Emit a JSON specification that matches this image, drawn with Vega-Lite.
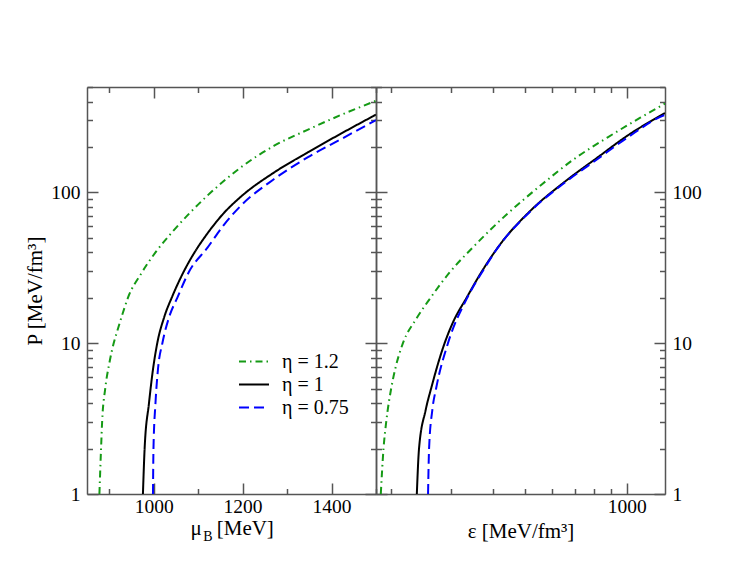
{
  "$schema": "https://vega.github.io/schema/vega-lite/v6.json",
  "padding": {"left": 24, "top": 86, "right": 5, "bottom": 5},
  "bounds": "flush",
  "spacing": 0,
  "config": {
    "view": {"stroke": null},
    "font": "Liberation Serif",
    "axis": {
      "grid": false,
      "domainColor": "#555555",
      "domainWidth": 1.5,
      "tickColor": "#555555",
      "tickWidth": 1.5,
      "labelFont": "Liberation Serif",
      "titleFont": "Liberation Serif",
      "labelFontSize": 19.5,
      "titleFontSize": 21,
      "labelColor": "black",
      "titleColor": "black",
      "titleFontWeight": "normal"
    },
    "legend": {
      "labelFont": "Liberation Serif",
      "labelFontSize": 20,
      "labelColor": "black"
    }
  },
  "datasets": {
    "left": [
      {"eta": "η = 1.2", "x": 877.9, "P": 1},
      {"eta": "η = 1.2", "x": 881.6, "P": 2},
      {"eta": "η = 1.2", "x": 884, "P": 3},
      {"eta": "η = 1.2", "x": 891, "P": 5},
      {"eta": "η = 1.2", "x": 900, "P": 7.3},
      {"eta": "η = 1.2", "x": 910, "P": 10},
      {"eta": "η = 1.2", "x": 916, "P": 11.5},
      {"eta": "η = 1.2", "x": 928, "P": 15},
      {"eta": "η = 1.2", "x": 942, "P": 20},
      {"eta": "η = 1.2", "x": 972, "P": 29},
      {"eta": "η = 1.2", "x": 1004, "P": 40},
      {"eta": "η = 1.2", "x": 1045, "P": 56},
      {"eta": "η = 1.2", "x": 1120.5, "P": 95},
      {"eta": "η = 1.2", "x": 1196, "P": 146.5},
      {"eta": "η = 1.2", "x": 1271, "P": 204},
      {"eta": "η = 1.2", "x": 1346, "P": 260},
      {"eta": "η = 1.2", "x": 1422, "P": 327},
      {"eta": "η = 1.2", "x": 1500, "P": 405},
      {"eta": "η = 1", "x": 975.8, "P": 1},
      {"eta": "η = 1", "x": 979.6, "P": 2},
      {"eta": "η = 1", "x": 989.4, "P": 4},
      {"eta": "η = 1", "x": 999, "P": 6.9},
      {"eta": "η = 1", "x": 1008, "P": 10},
      {"eta": "η = 1", "x": 1024, "P": 15},
      {"eta": "η = 1", "x": 1042, "P": 20.5},
      {"eta": "η = 1", "x": 1068, "P": 30},
      {"eta": "η = 1", "x": 1093, "P": 40.5},
      {"eta": "η = 1", "x": 1120, "P": 53},
      {"eta": "η = 1", "x": 1156, "P": 72},
      {"eta": "η = 1", "x": 1196, "P": 93.6},
      {"eta": "η = 1", "x": 1271, "P": 135.7},
      {"eta": "η = 1", "x": 1346, "P": 184},
      {"eta": "η = 1", "x": 1422, "P": 246},
      {"eta": "η = 1", "x": 1500, "P": 328},
      {"eta": "η = 0.75", "x": 998.4, "P": 1},
      {"eta": "η = 0.75", "x": 999.5, "P": 2},
      {"eta": "η = 0.75", "x": 1004, "P": 4},
      {"eta": "η = 0.75", "x": 1010, "P": 6.9},
      {"eta": "η = 0.75", "x": 1019.5, "P": 10},
      {"eta": "η = 0.75", "x": 1035, "P": 15},
      {"eta": "η = 0.75", "x": 1053, "P": 20},
      {"eta": "η = 0.75", "x": 1080, "P": 30},
      {"eta": "η = 0.75", "x": 1121, "P": 43},
      {"eta": "η = 0.75", "x": 1158, "P": 61},
      {"eta": "η = 0.75", "x": 1196, "P": 81.6},
      {"eta": "η = 0.75", "x": 1271, "P": 122.7},
      {"eta": "η = 0.75", "x": 1346, "P": 170.6},
      {"eta": "η = 0.75", "x": 1422, "P": 226},
      {"eta": "η = 0.75", "x": 1500, "P": 302}
    ],
    "right": [
      {"eta": "η = 1.2", "x": 186, "P": 1},
      {"eta": "η = 1.2", "x": 189.5, "P": 2},
      {"eta": "η = 1.2", "x": 193, "P": 3},
      {"eta": "η = 1.2", "x": 200, "P": 5.1},
      {"eta": "η = 1.2", "x": 205.8, "P": 6.9},
      {"eta": "η = 1.2", "x": 216.4, "P": 10},
      {"eta": "η = 1.2", "x": 237, "P": 14.5},
      {"eta": "η = 1.2", "x": 261, "P": 19.9},
      {"eta": "η = 1.2", "x": 298, "P": 29.5},
      {"eta": "η = 1.2", "x": 352, "P": 44},
      {"eta": "η = 1.2", "x": 441.5, "P": 71.9},
      {"eta": "η = 1.2", "x": 554.6, "P": 111},
      {"eta": "η = 1.2", "x": 697, "P": 166},
      {"eta": "η = 1.2", "x": 876, "P": 231},
      {"eta": "η = 1.2", "x": 1101, "P": 314},
      {"eta": "η = 1.2", "x": 1277, "P": 379},
      {"eta": "η = 1.2", "x": 1300, "P": 388},
      {"eta": "η = 1", "x": 238, "P": 1},
      {"eta": "η = 1", "x": 241.6, "P": 2},
      {"eta": "η = 1", "x": 252.8, "P": 3.6},
      {"eta": "η = 1", "x": 263, "P": 5.1},
      {"eta": "η = 1", "x": 287.8, "P": 10},
      {"eta": "η = 1", "x": 305, "P": 13.8},
      {"eta": "η = 1", "x": 334, "P": 19.9},
      {"eta": "η = 1", "x": 375, "P": 31},
      {"eta": "η = 1", "x": 421.7, "P": 45.5},
      {"eta": "η = 1", "x": 517.8, "P": 75.6},
      {"eta": "η = 1", "x": 651, "P": 116.5},
      {"eta": "η = 1", "x": 818, "P": 170},
      {"eta": "η = 1", "x": 1000, "P": 236},
      {"eta": "η = 1", "x": 1291, "P": 333},
      {"eta": "η = 1", "x": 1300, "P": 336},
      {"eta": "η = 0.75", "x": 257, "P": 1},
      {"eta": "η = 0.75", "x": 258.8, "P": 2},
      {"eta": "η = 0.75", "x": 264.6, "P": 3.6},
      {"eta": "η = 0.75", "x": 272, "P": 5.1},
      {"eta": "η = 0.75", "x": 294.5, "P": 10},
      {"eta": "η = 0.75", "x": 335.6, "P": 19.9},
      {"eta": "η = 0.75", "x": 375, "P": 30.5},
      {"eta": "η = 0.75", "x": 408, "P": 41},
      {"eta": "η = 0.75", "x": 517.8, "P": 75},
      {"eta": "η = 0.75", "x": 651, "P": 115},
      {"eta": "η = 0.75", "x": 818, "P": 166},
      {"eta": "η = 0.75", "x": 1000, "P": 229},
      {"eta": "η = 0.75", "x": 1291, "P": 325},
      {"eta": "η = 0.75", "x": 1300, "P": 327}
    ]
  },
  "hconcat": [
    {
      "width": 289,
      "height": 407,
      "data": {"name": "left"},
      "layer": [
        {
          "mark": {"type": "line", "strokeWidth": 2, "clip": true, "interpolate": "monotone"},
          "encoding": {
            "x": {"field": "x", "type": "quantitative",
              "scale": {"domain": [850, 1500], "nice": false, "zero": false},
              "axis": {"orient": "bottom", "values": [1000, 1200, 1400], "format": "d", "tickSize": -11, "labelPadding": 14, "title": "μ", "titleX": 108.7, "titleY": 40, "titleAlign": "center", "titleBaseline": "alphabetic"}},
            "y": {"field": "P", "type": "quantitative",
              "scale": {"type": "log", "domain": [1, 500], "nice": false},
              "axis": {"orient": "left", "values": [1, 10, 100], "format": "d", "tickSize": -11, "labelPadding": 18, "title": "P [MeV/fm³]", "titlePadding": 5}},
            "color": {"field": "eta", "type": "nominal",
              "scale": {"domain": ["η = 1.2", "η = 1", "η = 0.75"], "range": ["#159a15", "#000000", "#0000ff"]},
              "legend": {"title": null, "orient": "none", "legendX": 151, "legendY": 264, "symbolType": "stroke", "symbolSize": 900, "symbolStrokeWidth": 2, "labelOffset": 12, "rowPadding": 2, "clipHeight": 21}},
            "strokeDash": {"field": "eta", "type": "nominal",
              "scale": {"domain": ["η = 1.2", "η = 1", "η = 0.75"], "range": [[7, 4, 1.5, 4], [1, 0], [10, 5]]},
              "legend": {"title": null, "orient": "none", "legendX": 151, "legendY": 264, "symbolType": "stroke", "symbolSize": 900, "symbolStrokeWidth": 2, "labelOffset": 12, "rowPadding": 2, "clipHeight": 21}}
          }
        },
        {
          "mark": {"type": "point", "opacity": 0},
          "encoding": {
            "x": {"field": "x", "type": "quantitative",
              "axis": {"orient": "bottom", "values": [900, 1100, 1300, 1500], "tickSize": -5.5, "labels": false, "domain": false, "title": "B", "titleFontSize": 14, "titleX": 120.5, "titleY": 46, "titleAlign": "center", "titleBaseline": "alphabetic"}},
            "y": {"field": "P", "type": "quantitative",
              "axis": {"orient": "left", "values": [2, 3, 4, 5, 6, 7, 8, 9, 20, 30, 40, 50, 60, 70, 80, 90, 200, 300, 400, 500], "tickSize": -5.5, "labels": false, "domain": false, "title": null}}
          }
        },
        {
          "mark": {"type": "point", "opacity": 0},
          "encoding": {
            "x": {"field": "x", "type": "quantitative",
              "axis": {"orient": "top", "values": [1000, 1200, 1400], "tickSize": -11, "labels": false, "title": "[MeV]", "titleX": 157.8, "titleY": 447, "titleAlign": "center", "titleBaseline": "alphabetic"}},
            "y": {"field": "P", "type": "quantitative",
              "axis": {"orient": "right", "values": [1, 10, 100], "tickSize": -11, "labels": false, "title": null}}
          }
        },
        {
          "mark": {"type": "point", "opacity": 0},
          "encoding": {
            "x": {"field": "x", "type": "quantitative",
              "axis": {"orient": "top", "values": [900, 1100, 1300, 1500], "tickSize": -5.5, "labels": false, "domain": false, "title": null}},
            "y": {"field": "P", "type": "quantitative",
              "axis": {"orient": "right", "values": [2, 3, 4, 5, 6, 7, 8, 9, 20, 30, 40, 50, 60, 70, 80, 90, 200, 300, 400, 500], "tickSize": -5.5, "labels": false, "domain": false, "title": null}}
          }
        }
      ],
      "resolve": {"axis": {"x": "independent", "y": "independent"}}
    },
    {
      "width": 289,
      "height": 407,
      "data": {"name": "right"},
      "layer": [
        {
          "mark": {"type": "line", "strokeWidth": 2, "clip": true, "interpolate": "monotone"},
          "encoding": {
            "x": {"field": "x", "type": "quantitative",
              "scale": {"type": "log", "domain": [180, 1300], "nice": false},
              "axis": {"orient": "bottom", "values": [1000], "format": "d", "tickSize": -11, "labelPadding": 14, "title": "ε [MeV/fm³]", "titlePadding": 5}},
            "y": {"field": "P", "type": "quantitative",
              "scale": {"type": "log", "domain": [1, 500], "nice": false},
              "axis": {"orient": "right", "values": [1, 10, 100], "format": "d", "tickSize": -11, "labelPadding": 18, "title": null}},
            "color": {"field": "eta", "type": "nominal",
              "scale": {"domain": ["η = 1.2", "η = 1", "η = 0.75"], "range": ["#159a15", "#000000", "#0000ff"]}},
            "strokeDash": {"field": "eta", "type": "nominal",
              "scale": {"domain": ["η = 1.2", "η = 1", "η = 0.75"], "range": [[7, 4, 1.5, 4], [1, 0], [10, 5]]}}
          }
        },
        {
          "mark": {"type": "point", "opacity": 0},
          "encoding": {
            "x": {"field": "x", "type": "quantitative",
              "axis": {"orient": "bottom", "values": [200, 300, 400, 500, 600, 700, 800, 900], "tickSize": -5.5, "labels": false, "domain": false, "title": null}},
            "y": {"field": "P", "type": "quantitative",
              "axis": {"orient": "right", "values": [2, 3, 4, 5, 6, 7, 8, 9, 20, 30, 40, 50, 60, 70, 80, 90, 200, 300, 400, 500], "tickSize": -5.5, "labels": false, "domain": false, "title": null}}
          }
        },
        {
          "mark": {"type": "point", "opacity": 0},
          "encoding": {
            "x": {"field": "x", "type": "quantitative",
              "axis": {"orient": "top", "values": [1000], "tickSize": -11, "labels": false, "title": null}},
            "y": {"field": "P", "type": "quantitative",
              "axis": {"orient": "left", "values": [1, 10, 100], "tickSize": -11, "labels": false, "title": null}}
          }
        },
        {
          "mark": {"type": "point", "opacity": 0},
          "encoding": {
            "x": {"field": "x", "type": "quantitative",
              "axis": {"orient": "top", "values": [200, 300, 400, 500, 600, 700, 800, 900], "tickSize": -5.5, "labels": false, "domain": false, "title": null}},
            "y": {"field": "P", "type": "quantitative",
              "axis": {"orient": "left", "values": [2, 3, 4, 5, 6, 7, 8, 9, 20, 30, 40, 50, 60, 70, 80, 90, 200, 300, 400, 500], "tickSize": -5.5, "labels": false, "domain": false, "title": null}}
          }
        }
      ],
      "resolve": {"axis": {"x": "independent", "y": "independent"}}
    }
  ]
}
